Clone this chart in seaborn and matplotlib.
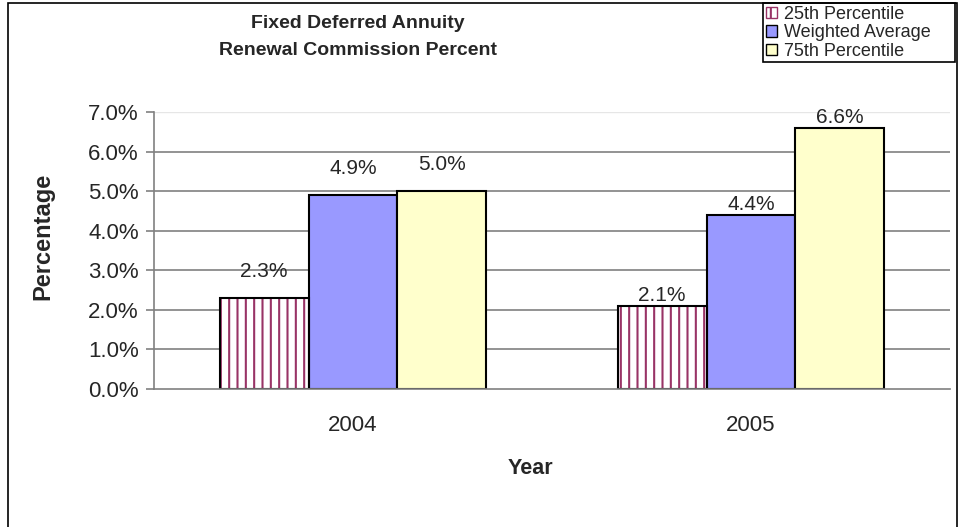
import numpy as np
import pandas as pd
import seaborn as sns
import matplotlib as mpl
import matplotlib.pyplot as plt
import matplotlib.patches as mpatches

# data
years = ["2004", "2005"]
series = ["25th Percentile", "Weighted Average", "75th Percentile"]
p25 = [2.3, 2.1]
wavg = [4.9, 4.4]
p75 = [5.0, 6.6]

colors = {"25th Percentile": "#FFFFFF", "Weighted Average": "#9999FF", "75th Percentile": "#FFFFCC"}
hatch_col = "#993366"

df = pd.DataFrame({
    "year": years * 3,
    "series": [s for s in series for _ in years],
    "value": p25 + wavg + p75,
})

sns.set_style("white")
plt.rcParams["font.family"] = ["Liberation Sans", "DejaVu Sans"]
mpl.rcParams["hatch.linewidth"] = 1.5

fig = plt.figure(figsize=(9.6, 5.27), dpi=100)
ax = fig.add_axes([154 / 960, 1 - 389 / 527, 796 / 960, 277 / 527])

sns.barplot(data=df, x="year", y="value", hue="series", order=years, hue_order=series,
            palette=colors, width=0.67, edgecolor="black", linewidth=1.5,
            saturation=1, legend=False, ax=ax)

# striped 25th percentile bars: hatch takes the edge colour, so redraw the outline on top
for bar in ax.containers[0]:
    bar.set_hatch("||")
    bar.set_edgecolor(hatch_col)
    bar.set_linewidth(0)
    ax.add_patch(mpatches.Rectangle(bar.get_xy(), bar.get_width(), bar.get_height(),
                                    fill=False, edgecolor="black", linewidth=1.5,
                                    zorder=bar.get_zorder() + 0.1))

# value labels (Excel puts them a bit differently per group)
for cont in ax.containers:
    for i, bar in enumerate(cont):
        h = bar.get_height()
        off = 12 if i == 0 else 0.5
        ax.annotate(f"{h:.1f}%", (bar.get_x() + bar.get_width() / 2, h),
                    xytext=(0, off), textcoords="offset points",
                    ha="center", va="bottom", fontsize=15)

ax.set_ylim(0, 7)
ax.set_yticks(np.arange(0, 7.01, 1))
ax.set_yticklabels([f"{v:.1f}%" for v in np.arange(0, 7.01, 1)], fontsize=16)
ax.set_xlim(-0.5, 1.5)
ax.set_xticks([0, 1])
ax.set_xticklabels(years, fontsize=16)
ax.set_xticks([-0.5, 0.5, 1.5], minor=True)
ax.tick_params(axis="x", which="major", length=0, pad=19)
ax.tick_params(axis="x", which="minor", length=6, color="#808080", width=1.2)
ax.tick_params(axis="y", length=6, color="#808080", width=1.2, left=True, pad=5)

for y in range(1, 7):
    ax.axhline(y, color="#808080", lw=1.2, zorder=0)
ax.axhline(7, color="#e6e6e6", lw=1, zorder=0)

for s in ["top", "right"]:
    ax.spines[s].set_visible(False)
for s in ["left", "bottom"]:
    ax.spines[s].set_color("#808080")
    ax.spines[s].set_linewidth(1.2)

ax.set_xlabel("")
ax.set_ylabel("")
fig.text(43 / 960, 1 - 236 / 527, "Percentage", rotation=90, ha="center", va="center",
         fontsize=17, fontweight="bold")
fig.text(530 / 960, 1 - 468 / 527, "Year", ha="center", va="center",
         fontsize=15.5, fontweight="bold")
fig.text(358 / 960, 1 - 37 / 527, "Fixed Deferred Annuity\nRenewal Commission Percent",
         ha="center", va="center", fontsize=14, fontweight="bold", linespacing=1.8)

# legend: Excel draws a wide box, so the frame is a separate rectangle
handles = [mpatches.Patch(facecolor=colors[s], edgecolor="black", linewidth=1)
           for s in series]
handles[0].set_hatch("||")
handles[0].set_edgecolor(hatch_col)
leg = fig.legend(handles, series, loc="upper left", bbox_to_anchor=(764 / 960, 1 - 4 / 527),
                 fontsize=13, frameon=False,
                 handlelength=0.6, handleheight=0.6, handletextpad=0.4,
                 labelspacing=0.08, borderpad=0.1, borderaxespad=0)
fig.patches.append(mpatches.Rectangle((763 / 960, 1 - 62 / 527), 192 / 960, 59 / 527,
                                      transform=fig.transFigure, fill=False,
                                      edgecolor="black", linewidth=1.2))

# outer chart border (bottom edge falls just off the image)
fig.patches.append(mpatches.Rectangle((8 / 960, -0.01), 949 / 960, 1 - 3 / 527 + 0.01,
                                      transform=fig.transFigure, fill=False,
                                      edgecolor="black", linewidth=1.2))

fig.savefig("out.png", dpi=100)
